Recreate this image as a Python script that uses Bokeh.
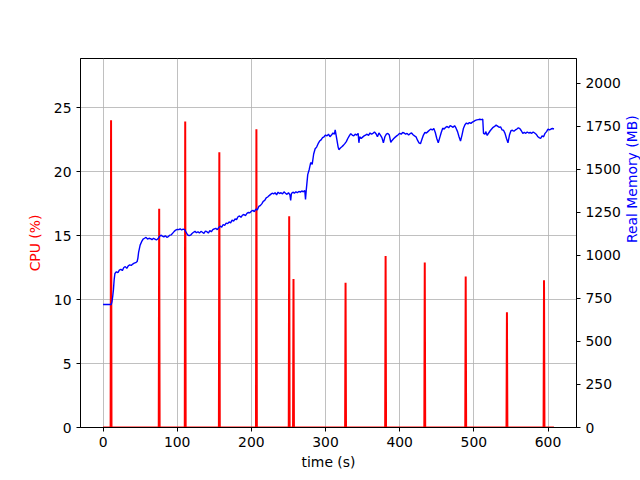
from bokeh.plotting import figure
from bokeh.models import Range1d, LinearAxis, FixedTicker
from bokeh.embed import file_html
from bokeh.resources import INLINE
import math

# CPU spikes (time s, CPU %)
spike_times = [10.8, 75.7, 110.8, 156.8, 206.8, 251.0, 256.8, 327.0, 381.0, 433.8, 489.0, 544.6, 594.6]
spike_values = [24.0, 17.1, 23.9, 21.5, 23.3, 16.5, 11.6, 11.3, 13.4, 12.9, 11.8, 9.0, 11.5]
cpu_end_time = 608

# Real memory trace (time s, MB)
mem_time = [0, 11, 12, 13, 14, 15, 16, 18, 20, 22, 24, 26, 28, 30, 32, 34, 36, 38, 40, 42, 44, 46, 47, 48, 50,
            52, 54, 56, 58, 60, 62, 64, 66, 68, 70, 72, 74, 76, 78, 80, 82, 84, 86, 88, 90, 92, 94, 96, 98, 100,
            102, 104, 106, 108, 110, 112, 114, 116, 118, 120, 122, 124, 126, 128, 130, 132, 134, 136, 138, 140,
            142, 144, 146, 148, 150, 152, 154, 156, 158, 160, 162, 164, 166, 168, 170, 172, 174, 176, 178, 180,
            182, 184, 186, 188, 190, 192, 194, 196, 198, 200, 202, 204, 206, 208, 210, 212, 214, 216, 218, 220,
            222, 224, 226, 228, 230, 232, 234, 236, 238, 240, 242, 244, 246, 248, 250, 252, 253, 254, 256, 258,
            260, 262, 264, 266, 268, 270, 272, 273, 274, 276, 278, 280, 282, 284, 286, 288, 290, 292, 294, 296,
            298, 300, 302, 304, 306, 308, 310, 312, 313, 315, 317, 318, 320, 322, 324, 326, 328, 330, 332, 334,
            336, 338, 340, 342, 344, 345, 346, 348, 350, 352, 354, 356, 358, 360, 362, 364, 366, 368, 370, 372,
            374, 376, 378, 380, 382, 384, 386, 388, 390, 392, 394, 396, 398, 400, 402, 404, 406, 408, 410, 412,
            414, 416, 418, 420, 422, 424, 426, 428, 430, 432, 434, 436, 438, 440, 442, 444, 446, 448, 450, 452,
            454, 456, 458, 460, 462, 464, 466, 468, 470, 472, 474, 476, 478, 480, 482, 484, 486, 488, 490, 492,
            494, 496, 498, 500, 502, 504, 506, 508, 510, 512, 513, 515, 516, 518, 520, 522, 524, 526, 528, 530,
            532, 534, 536, 538, 540, 542, 544, 546, 548, 550, 552, 554, 556, 558, 560, 562, 564, 566, 568, 570,
            572, 574, 576, 578, 580, 582, 584, 586, 588, 590, 592, 594, 596, 598, 600, 602, 604, 606, 608]
mem_mb = [715, 715, 730, 760, 800, 860, 895, 905, 900, 915, 920, 912, 930, 935, 925, 940, 945, 942, 950, 955, 958, 965, 985, 1020, 1060,
          1080, 1095, 1100, 1105, 1095, 1100, 1098, 1092, 1100, 1095, 1090, 1097, 1110, 1118, 1113, 1108, 1115, 1105, 1110, 1118, 1120, 1130, 1140, 1148, 1152,
          1150, 1155, 1148, 1153, 1150, 1135, 1120, 1115, 1118, 1128, 1135, 1140, 1132, 1138, 1130, 1140, 1135, 1128, 1142, 1138,
          1130, 1145, 1138, 1150, 1155, 1158, 1150, 1162, 1170, 1165, 1180, 1175, 1188, 1185, 1195, 1190, 1205, 1200, 1212, 1208,
          1225, 1230, 1222, 1235, 1238, 1232, 1245, 1250, 1248, 1258, 1262, 1255, 1270, 1265, 1285, 1290, 1300, 1315, 1320, 1335,
          1340, 1348, 1355, 1362, 1358, 1365, 1352, 1368, 1360, 1365, 1358, 1370, 1362, 1355, 1365, 1352, 1320, 1360, 1368, 1362,
          1370, 1365, 1372, 1368, 1375, 1370, 1378, 1325, 1380, 1470, 1500, 1540, 1530, 1590, 1620, 1630, 1650, 1665, 1672, 1685,
          1690, 1700, 1695, 1705, 1690, 1700, 1712, 1705, 1730, 1680, 1630, 1615, 1625, 1632, 1640, 1650, 1662, 1680, 1695, 1708,
          1700, 1695, 1705, 1700, 1710, 1655, 1690, 1680, 1688, 1695, 1700, 1705, 1698, 1712, 1705, 1710, 1718, 1708, 1690, 1712,
          1700, 1685, 1655, 1690, 1705, 1710, 1700, 1658, 1670, 1680, 1688, 1695, 1702, 1710, 1705, 1715, 1712, 1705, 1710, 1700,
          1708, 1712, 1702, 1695, 1690, 1670, 1655, 1650, 1675, 1700, 1715, 1712, 1720, 1728, 1735, 1730, 1738, 1715, 1680, 1655,
          1685, 1715, 1740, 1735, 1745, 1750, 1742, 1755, 1750, 1745, 1755, 1740, 1720, 1690, 1665, 1700, 1740, 1760, 1770, 1765,
          1772, 1768, 1775, 1780, 1785, 1788, 1790, 1792, 1790, 1792, 1710, 1705, 1720, 1698, 1712, 1725, 1735, 1745, 1750, 1758,
          1752, 1745, 1748, 1730, 1728, 1710, 1680, 1655, 1700, 1725, 1728, 1722, 1730, 1735, 1742, 1738, 1725, 1710, 1715, 1710,
          1718, 1712, 1715, 1710, 1718, 1712, 1705, 1692, 1685, 1680, 1695, 1690, 1710, 1720, 1735, 1730, 1735, 1738, 1735]

x_ticks = [0, 100, 200, 300, 400, 500, 600]
cpu_ticks = [0, 5, 10, 15, 20, 25]
mem_ticks = [0, 250, 500, 750, 1000, 1250, 1500, 1750, 2000]

# Build CPU line table from the spike data (single-sample spikes on a zero baseline)
cpu_t = [0]
cpu_v = [0]
for t, v in zip(spike_times, spike_values):
    cpu_t += [t - 0.6, t, t + 0.6]
    cpu_v += [0, v, 0]
cpu_t.append(cpu_end_time)
cpu_v.append(0)

FONT = "DejaVu Sans"
FS = "13.9px"

p = figure(width=632, height=472, output_backend="svg", toolbar_location=None,
           x_range=Range1d(-30.4, 638.4), y_range=Range1d(0, 28.83),
           frame_width=496, frame_height=369,
           min_border_left=80, min_border_right=56, min_border_top=58, min_border_bottom=45)
p.extra_y_ranges = {"mem": Range1d(0, 2145)}

p.outline_line_color = "black"
p.outline_line_width = 1
p.background_fill_color = "white"
p.border_fill_color = "white"

for g in (p.xgrid[0], p.ygrid[0]):
    g.grid_line_color = "#b0b0b0"
    g.grid_line_width = 0.8

def style_axis(ax):
    ax.major_label_text_font = FONT
    ax.major_label_text_font_size = FS
    ax.major_label_text_color = "black"
    ax.axis_label_text_font = FONT
    ax.axis_label_text_font_size = FS
    ax.axis_label_text_font_style = "normal"
    ax.axis_label_text_color = "black"
    ax.major_tick_out = 4
    ax.major_tick_in = 0
    ax.minor_tick_line_color = None
    ax.axis_line_color = "black"
    ax.major_tick_line_color = "black"

xa = p.xaxis[0]
xa.ticker = FixedTicker(ticks=x_ticks)
xa.axis_label = "time (s)"
style_axis(xa)
xa.axis_label_standoff = 4

ya = p.yaxis[0]
ya.ticker = FixedTicker(ticks=cpu_ticks)
ya.axis_label = "CPU (%)"
style_axis(ya)
ya.axis_label_text_color = "red"
ya.axis_label_standoff = 8

ra = LinearAxis(y_range_name="mem", ticker=FixedTicker(ticks=mem_ticks), axis_label="Real Memory (MB)")
style_axis(ra)
ra.axis_label_text_color = "blue"
ra.axis_label_standoff = 8
if "axis_label_orientation" in ra.properties():
    ra.axis_label_orientation = math.pi / 2
p.add_layout(ra, "right")

p.line(cpu_t, cpu_v, line_color="red", line_width=2)
p.line(mem_time, mem_mb, line_color="blue", line_width=1.4, y_range_name="mem")

open("out.html", "w").write(file_html(p, INLINE))
